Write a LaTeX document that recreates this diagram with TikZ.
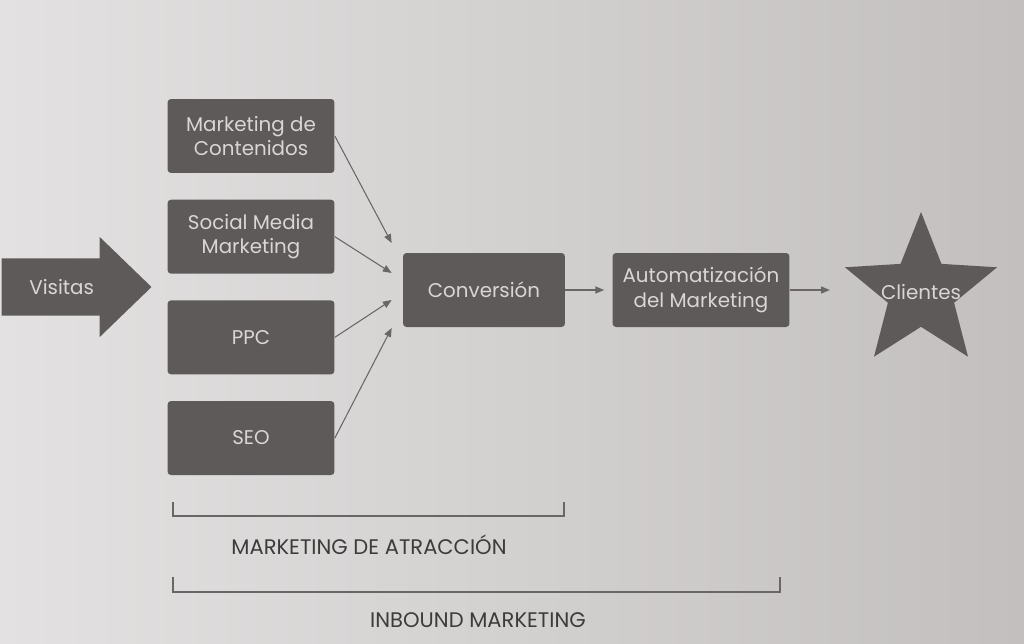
\documentclass[tikz,border=0pt]{standalone}
\usepackage{fontspec}
\setmainfont{Poppins}
\usetikzlibrary{shapes.geometric, shapes.arrows, arrows.meta, positioning, calc}
\definecolor{boxgray}{HTML}{5E5A5A}
\definecolor{boxtext}{HTML}{DAD6D6}
\definecolor{linegray}{HTML}{6A6666}
\definecolor{labeltext}{HTML}{3E3B3B}
\definecolor{paperleft}{HTML}{E3E1E1}
\definecolor{paperright}{HTML}{C3BFBF}

\tikzset{
  block/.style={rectangle, rounded corners=2pt, fill=boxgray, text=boxtext,
    align=center, font=\fontsize{11.3}{14}\selectfont, inner sep=2pt,
    minimum width=3.34cm, minimum height=1.48cm},
  link/.style={draw=linegray, line width=0.6pt, -{Triangle[length=5pt,width=4pt]}},
  brace/.style={draw=linegray, line width=0.6pt},
  caption/.style={text=labeltext, font=\fontsize{12}{14}\selectfont}
}

\begin{document}
\begin{tikzpicture}[x=0.02cm, y=-0.02cm]
\shade[left color=paperleft, right color=paperright] (0,0) rectangle (1024,643);
\useasboundingbox (0,0) rectangle (1024,643);

% entrada
\node[single arrow, fill=boxgray, text=boxtext, font=\fontsize{11.3}{14}\selectfont,
      minimum height=3cm, minimum width=2cm, single arrow head extend=0.4cm,
      single arrow tip angle=88, inner xsep=2pt, inner ysep=0.38cm, anchor=tip] (visitas) at (152,287) {Visitas};

% canales de atraccion
\node[block] (contenidos) at (251,136) {Marketing de\\Contenidos};
\node[block, below=0.52cm of contenidos] (social) {Social Media\\Marketing};
\node[block, below=0.52cm of social] (ppc) {PPC};
\node[block, below=0.52cm of ppc] (seo) {SEO};

\node[block, minimum width=3.24cm] (conv) at (484,290) {Conversión};
\node[block, minimum width=3.54cm] (auto) at (701,290) {Automatización\\del Marketing};
\node[star, star points=5, star point ratio=2.3, fill=boxgray, minimum size=3.2cm,
      inner sep=0pt, label={[text=boxtext, font=\fontsize{11.3}{14}\selectfont]center:Clientes}] (clientes) at (921,292) {};

% puntos de llegada
\coordinate (in1) at ($(conv.west)+(-11,-47)$);
\coordinate (in2) at ($(conv.west)+(-11,-17)$);
\coordinate (in3) at ($(conv.west)+(-11,10)$);
\coordinate (in4) at ($(conv.west)+(-11,38)$);
\coordinate (toauto) at ($(auto.west)+(-8,0)$);
\coordinate (tostar) at ($(auto.east)+(40,0)$);

\draw[link] (contenidos.east) -- (in1);
\draw[link] (social.east) -- (in2);
\draw[link] (ppc.east) -- (in3);
\draw[link] (seo.east) -- (in4);
\draw[link] (conv.east) -- (toauto);
\draw[link] (auto.east) -- (tostar);

% llaves inferiores
\coordinate (atrA) at (173,502);
\coordinate (atrB) at (564,502);
\coordinate (inbA) at (173,577);
\coordinate (inbB) at (780,577);
\draw[brace] (atrA) -- ++(0,14) -| (atrB);
\draw[brace] (inbA) -- ++(0,15) -| (inbB);

\node[caption] (atraccion) at (369,545) {MARKETING DE ATRACCIÓN};
\node[caption] (inbound) at (478,620) {INBOUND MARKETING};
\end{tikzpicture}
\end{document}
